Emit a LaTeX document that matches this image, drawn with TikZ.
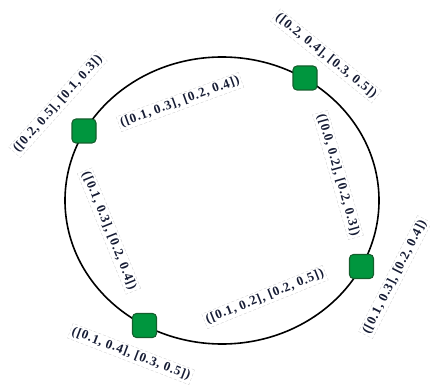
\documentclass[tikz,border=0pt]{standalone}
\usepackage{fontspec}
\setmainfont{Liberation Serif}
\newfontfamily\tagfont[LetterSpace=6]{Liberation Serif}
\definecolor{boxgreen}{RGB}{0,150,62}
\definecolor{boxedge}{RGB}{20,95,45}
\definecolor{labeltext}{RGB}{22,28,52}
\tikzset{
  x=1pt, y=-1pt,
  sq/.style={draw=boxedge, fill=boxgreen, line width=1.1pt, rounded corners=4pt,
             minimum size=24pt, inner sep=0pt},
  tag/.style={draw=gray!35, densely dashed, line width=0.4pt, inner sep=2pt,
              text=labeltext, font=\tagfont\bfseries\fontsize{13}{15}\selectfont}
}
\begin{document}
\begin{tikzpicture}
\useasboundingbox (0,0) rectangle (430,387);
% ring
\draw[line width=1.6pt] (222,200.5) ellipse [x radius=157, y radius=143.5];
% squares on the ring
\node[sq] (s1) at (84,131) {};
\node[sq] (s2) at (305,78) {};
\node[sq] (s3) at (361.5,266.5) {};
\node[sq] (s4) at (144.5,325.5) {};
% interval labels
\node[tag, rotate=48]  (t1) at (58,104)  {([0.2, 0.5], [0.1, 0.3])};
\node[tag, rotate=-39] (t2) at (326,56)  {([0.2, 0.4], [0.3, 0.5])};
\node[tag, rotate=20]  (t3) at (180,102) {([0.1, 0.3], [0.2, 0.4])};
\node[tag, rotate=-74] (t4) at (338,175) {([0.0, 0.2], [0.2, 0.3])};
\node[tag, rotate=63]  (t5) at (395,277) {([0.1, 0.3], [0.2, 0.4])};
\node[tag, rotate=22]  (t6) at (265,297) {([0.1, 0.2], [0.2, 0.5])};
\node[tag, rotate=-21] (t7) at (131,354) {([0.1, 0.4], [0.3, 0.5])};
\node[tag, rotate=-68] (t8) at (109,231) {([0.1, 0.3], [0.2, 0.4])};
\end{tikzpicture}
\end{document}
